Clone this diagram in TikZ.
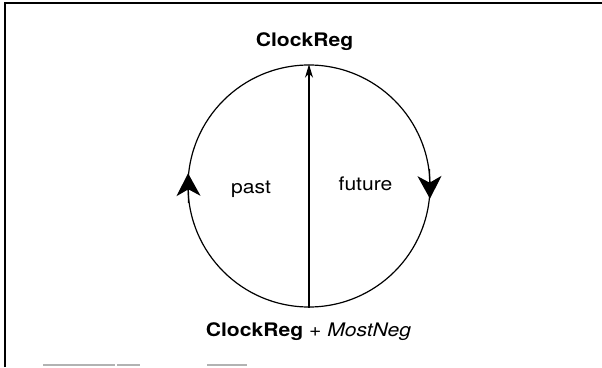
\documentclass[tikz,border=0pt]{standalone}
\usepackage{fontspec}
\setmainfont{TeX Gyre Heros}
\usetikzlibrary{arrows.meta}
\newcommand{\wide}[1]{\scalebox{1.13}[1]{#1}}
\begin{document}
\begin{tikzpicture}[x=0.75pt,y=-0.75pt,
  lbl/.style={font=\fontsize{14}{16}\selectfont, inner sep=0pt, anchor=base},
  ring/.style={draw, circle, minimum size=181.5pt, inner sep=0pt, line width=0.9pt},
  bighead/.style={line width=0.9pt, -{Stealth[length=17pt,width=18pt,inset=5pt]}},
  frameline/.style={line width=1.4pt},
  scrap/.style={line width=1pt, gray!60}]
\useasboundingbox (0,0) rectangle (602,367);
% partial frame
\draw[frameline] (5,367) -- (5,3) -- (602,3);
\draw[scrap] (43,365) -- (115,365);
\draw[scrap] (117,365) -- (140,365);
\draw[scrap] (207,365) -- (247,365);
% clock circle
\node[ring] (clock) at (309,186) {};
\draw[line width=0.8pt, -{Stealth[length=10pt,width=6pt]}] (clock.south) -- (clock.north);
\draw[bighead] (clock.188) -- (clock.174);
\draw[bighead] (clock.8) -- (clock.354);
% labels
\node[lbl] (top) at (304.5,46.7) {\wide{\textbf{ClockReg}}};
\node[lbl] (bot) at (308.5,336.7) {\wide{\textbf{ClockReg} + \textit{MostNeg}}};
\node[lbl] (past) at (251,193) {\wide{past}};
\node[lbl] (future) at (365.5,190) {\wide{future}};
\end{tikzpicture}
\end{document}
